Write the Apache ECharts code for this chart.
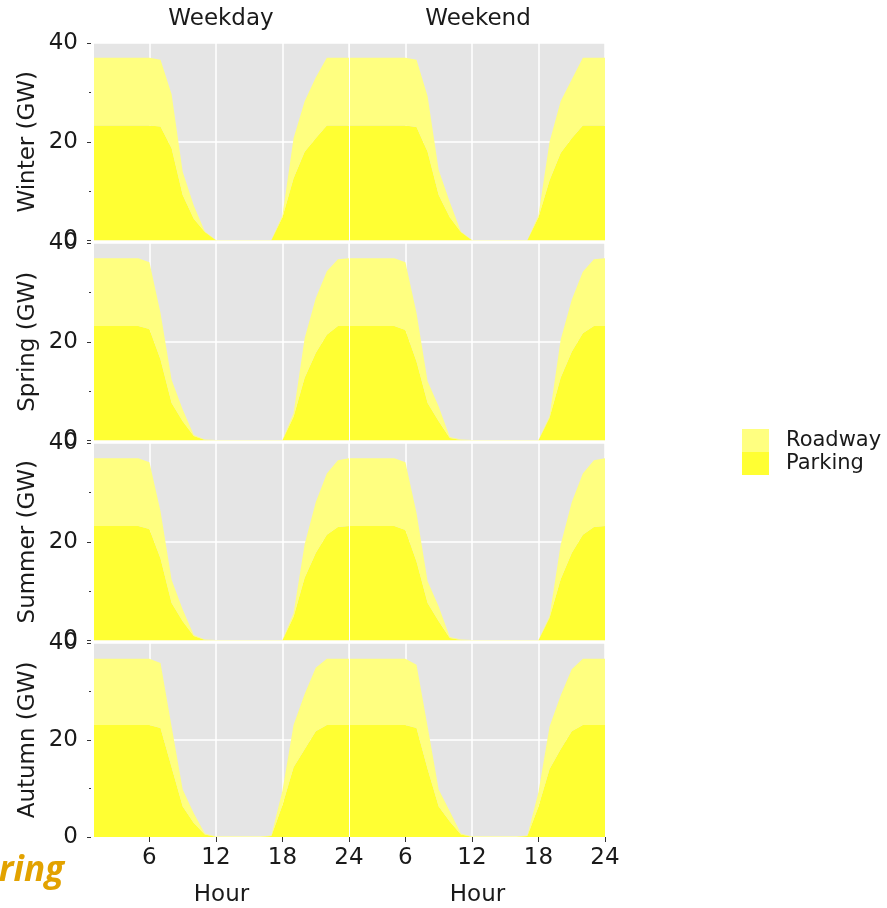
<!DOCTYPE html>
<html>
<head>
<meta charset="utf-8">
<script src="https://cdn.jsdelivr.net/npm/echarts@6/dist/echarts.min.js"></script>
<style>
html, body { margin: 0; padding: 0; background: #ffffff; }
#chart { width: 887px; height: 908px; }
</style>
</head>
<body>
<div id="chart"></div>
<script>
// ---------------- data ----------------
const hours = [1,2,3,4,5,6,7,8,9,10,11,12,13,14,15,16,17,18,19,20,21,22,23,24];
const seasons = ['Winter', 'Spring', 'Summer', 'Autumn'];
const dayTypes = ['Weekday', 'Weekend'];
const xTickValues = [6, 12, 18, 24];
const yTickValues = [0, 20, 40];

const winterWeekdayParking = [23.3,23.3,23.3,23.3,23.3,23.3,23.1,18.7,9.2,4.4,1.7,0.05,0.05,0.05,0.05,0.05,0.05,4.7,12.6,18.0,20.7,23.3,23.3,23.3];
const winterWeekdayRoadway = [13.7,13.7,13.7,13.7,13.7,13.7,13.5,10.9,4.7,2.7,0.1,0.05,0.05,0.05,0.05,0.05,0.05,0.4,8.1,10.2,12.3,13.7,13.7,13.7];
const winterWeekendParking = [23.3,23.3,23.3,23.3,23.3,23.3,23.0,18.0,9.2,4.7,1.7,0.05,0.05,0.05,0.05,0.05,0.05,4.7,12.2,17.7,20.7,23.3,23.3,23.3];
const winterWeekendRoadway = [13.7,13.7,13.7,13.7,13.7,13.7,13.6,11.2,5.1,3.1,0.1,0.05,0.05,0.05,0.05,0.05,0.05,0.4,7.8,10.5,11.9,13.7,13.7,13.7];

const springWeekdayParking = [23.2,23.2,23.2,23.2,23.2,22.6,16.4,7.6,3.9,0.9,0.1,0.05,0.05,0.05,0.05,0.05,0.05,0.05,4.8,12.7,17.7,21.4,23.2,23.2];
const springWeekdayRoadway = [13.7,13.7,13.7,13.7,13.7,13.5,9.4,4.7,2.4,0.2,0.1,0.05,0.05,0.05,0.05,0.05,0.05,0.05,0.7,8.0,11.1,12.9,13.5,13.7];
const springWeekendParking = [23.2,23.2,23.2,23.2,23.2,22.4,16.0,7.6,3.9,0.5,0.1,0.05,0.05,0.05,0.05,0.05,0.05,0.05,4.6,12.7,18.0,21.7,23.2,23.2];
const springWeekendRoadway = [13.7,13.7,13.7,13.7,13.7,13.7,9.8,4.4,3.0,0.2,0.1,0.05,0.05,0.05,0.05,0.05,0.05,0.05,0.3,7.7,10.5,12.5,13.5,13.7];

const summerWeekdayParking = [23.2,23.2,23.2,23.2,23.2,22.6,16.6,7.6,3.9,0.9,0.1,0.05,0.05,0.05,0.05,0.05,0.05,0.05,4.8,12.7,17.7,21.4,23.0,23.2];
const summerWeekdayRoadway = [13.7,13.7,13.7,13.7,13.7,13.5,9.6,4.7,2.4,0.2,0.1,0.05,0.05,0.05,0.05,0.05,0.05,0.05,0.7,6.8,10.3,12.4,13.5,13.7];
const summerWeekendParking = [23.2,23.2,23.2,23.2,23.2,22.4,16.0,7.6,3.9,0.5,0.1,0.05,0.05,0.05,0.05,0.05,0.05,0.05,4.6,12.4,17.7,21.4,23.0,23.2];
const summerWeekendRoadway = [13.7,13.7,13.7,13.7,13.7,13.7,9.8,4.4,3.0,0.2,0.1,0.05,0.05,0.05,0.05,0.05,0.05,0.05,0.3,7.0,10.3,12.4,13.5,13.7];

const autumnWeekdayParking = [23.1,23.1,23.1,23.1,23.1,23.1,22.5,14.4,6.3,2.9,0.5,0.05,0.05,0.05,0.05,0.05,0.2,6.6,14.4,18.1,21.8,23.1,23.1,23.1];
const autumnWeekdayRoadway = [13.65,13.65,13.65,13.65,13.65,13.65,13.4,8.4,3.5,2.0,0.2,0.05,0.05,0.05,0.05,0.05,0.1,3.0,8.7,11.4,13.1,13.65,13.65,13.65];
const autumnWeekendParking = [23.1,23.1,23.1,23.1,23.1,23.1,22.5,14.0,6.3,3.2,0.5,0.05,0.05,0.05,0.05,0.05,0.2,6.3,14.0,18.1,21.8,23.1,23.1,23.1];
const autumnWeekendRoadway = [13.65,13.65,13.65,13.65,13.65,13.65,13.0,8.8,3.5,2.1,0.2,0.05,0.05,0.05,0.05,0.05,0.1,3.0,8.8,11.1,12.8,13.65,13.65,13.65];

const parkingData = [
  [winterWeekdayParking, winterWeekendParking],
  [springWeekdayParking, springWeekendParking],
  [summerWeekdayParking, summerWeekendParking],
  [autumnWeekdayParking, autumnWeekendParking]
];
const roadwayData = [
  [winterWeekdayRoadway, winterWeekendRoadway],
  [springWeekdayRoadway, springWeekendRoadway],
  [summerWeekdayRoadway, summerWeekendRoadway],
  [autumnWeekdayRoadway, autumnWeekendRoadway]
];

// ---------------- layout / style ----------------
const FONT = '"DejaVu Sans", sans-serif';
const FS = 23;
const LEGEND_FS = 21;
const TEXT_COLOR = '#1a1a1a';
const PARKING_COLOR = '#FFFF33';
const ROADWAY_COLOR = '#FFFF80';
const PANEL_BG = '#E5E5E5';
const colLeft = [94, 350];
const colWidth = 255;
const rowTop = [43, 243, 443, 643];
const rowHeight = 197.5;

const isXTick = (index) => xTickValues.indexOf(hours[index]) >= 0;

const grids = [], xAxes = [], yAxes = [], series = [];
let idx = 0;
for (let r = 0; r < seasons.length; r++) {
  for (let c = 0; c < dayTypes.length; c++) {
    const isBottom = r === seasons.length - 1;
    grids.push({
      left: colLeft[c], top: rowTop[r], width: colWidth, height: rowHeight,
      show: true, backgroundColor: PANEL_BG, borderWidth: 0
    });
    xAxes.push({
      gridIndex: idx, type: 'category', data: hours, boundaryGap: false,
      name: isBottom ? 'Hour' : '',
      nameLocation: 'middle', nameGap: 44,
      nameTextStyle: { fontFamily: FONT, fontSize: FS, color: TEXT_COLOR },
      axisLine: { show: false },
      axisTick: { show: isBottom, interval: isXTick, length: 5, lineStyle: { color: '#333', width: 1 } },
      axisLabel: { show: isBottom, interval: isXTick, fontFamily: FONT, fontSize: FS, color: TEXT_COLOR, margin: 7 },
      offset: 3,
      splitLine: { show: true, interval: isXTick, lineStyle: { color: '#ffffff', width: 1.5 } }
    });
    yAxes.push({
      gridIndex: idx, type: 'value', min: yTickValues[0], max: yTickValues[2], interval: 20,
      name: c === 0 ? seasons[r] + ' (GW)' : '',
      nameLocation: 'middle', nameGap: 51,
      nameTextStyle: { fontFamily: FONT, fontSize: FS, color: TEXT_COLOR },
      axisLine: { show: false },
      axisTick: { show: c === 0, length: 4, lineStyle: { color: '#333', width: 1 } },
      minorTick: { show: c === 0, splitNumber: 2, length: 2, lineStyle: { color: '#333', width: 1 } },
      axisLabel: { show: c === 0, fontFamily: FONT, fontSize: FS, color: TEXT_COLOR, margin: 13,
                   padding: [5, 0, 0, 0], showMinLabel: true, showMaxLabel: true },
      offset: 3,
      splitLine: { show: true, lineStyle: { color: '#ffffff', width: 1.5 } }
    });
    const stackId = 'stack' + idx;
    series.push({
      name: 'Parking', type: 'line', xAxisIndex: idx, yAxisIndex: idx, stack: stackId,
      data: parkingData[r][c],
      symbol: 'none', lineStyle: { width: 0 },
      itemStyle: { color: PARKING_COLOR },
      areaStyle: { color: PARKING_COLOR, opacity: 1 },
      silent: true, animation: false
    });
    series.push({
      name: 'Roadway', type: 'line', xAxisIndex: idx, yAxisIndex: idx, stack: stackId,
      data: roadwayData[r][c],
      symbol: 'none', lineStyle: { width: 0 },
      itemStyle: { color: ROADWAY_COLOR },
      areaStyle: { color: ROADWAY_COLOR, opacity: 1 },
      silent: true, animation: false
    });
    idx++;
  }
}

const chart = echarts.init(document.getElementById('chart'), null, { renderer: 'canvas' });
chart.setOption({
  backgroundColor: '#ffffff',
  animation: false,
  grid: grids,
  xAxis: xAxes,
  yAxis: yAxes,
  series: series,
  legend: {
    data: ['Roadway', 'Parking'],
    orient: 'vertical', left: 742, top: 429, padding: 0,
    icon: 'rect', itemWidth: 27, itemHeight: 23, itemGap: 0,
    selectedMode: false,
    textStyle: { fontFamily: FONT, fontSize: LEGEND_FS, color: TEXT_COLOR, padding: [0, 0, 0, 12] }
  },
  graphic: [
    { type: 'text', x: 221, y: 8,
      style: { text: dayTypes[0], font: FS + 'px ' + FONT, fill: TEXT_COLOR, align: 'center', verticalAlign: 'top' } },
    { type: 'text', x: 478, y: 8,
      style: { text: dayTypes[1], font: FS + 'px ' + FONT, fill: TEXT_COLOR, align: 'center', verticalAlign: 'top' } },
    { type: 'text', right: 823, top: 854,
      style: { text: 'ring', font: 'italic bold 35px "Open Sans", sans-serif', fill: '#E2A200' } }
  ]
});
</script>
</body>
</html>
